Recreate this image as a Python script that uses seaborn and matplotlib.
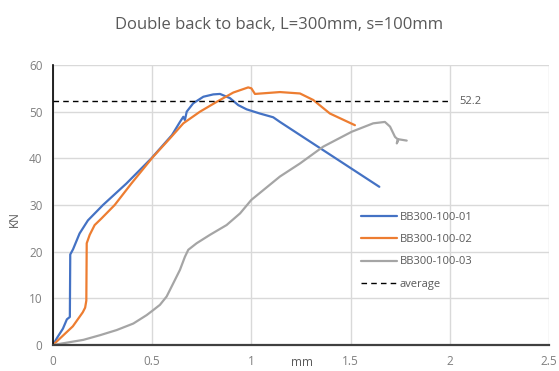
import matplotlib
matplotlib.use("Agg")
import matplotlib.pyplot as plt
import seaborn as sns
import pandas as pd

# Load-displacement readings (mm, KN)
bb01_mm = [0.0, 0.02, 0.05, 0.07, 0.085, 0.087, 0.101, 0.134, 0.176, 0.252, 0.37, 0.496, 0.6, 0.64,
           0.657, 0.665, 0.674, 0.707, 0.758, 0.808, 0.842, 0.892, 0.934, 0.976, 1.043, 1.11, 1.144, 1.645]
bb01_kn = [0.0, 1.5, 3.5, 5.5, 6.0, 19.4, 20.5, 23.9, 26.7, 30.0, 34.6, 40.0, 45.0, 47.8,
           48.9, 48.2, 50.0, 51.8, 53.2, 53.7, 53.8, 52.9, 51.4, 50.5, 49.6, 48.8, 47.8, 33.9]

bb02_mm = [0.0, 0.05, 0.1, 0.15, 0.162, 0.168, 0.17, 0.185, 0.21, 0.244, 0.311, 0.395, 0.504,
           0.59, 0.657, 0.741, 0.825, 0.909, 0.984, 1.0, 1.018, 1.144, 1.245, 1.312, 1.396, 1.522]
bb02_kn = [0.0, 2.0, 4.0, 7.0, 8.0, 9.5, 21.8, 23.6, 25.7, 27.1, 30.0, 34.6, 40.3,
           44.3, 47.5, 50.0, 52.1, 54.1, 55.2, 55.0, 53.8, 54.2, 53.9, 52.5, 49.6, 47.1]

bb03_mm = [0.0, 0.153, 0.237, 0.321, 0.405, 0.472, 0.506, 0.539, 0.573, 0.606, 0.64, 0.665, 0.682,
           0.724, 0.791, 0.875, 0.943, 1.0, 1.144, 1.245, 1.362, 1.506, 1.614, 1.673, 1.699,
           1.724, 1.74, 1.733, 1.74, 1.783]
bb03_kn = [0.0, 1.1, 2.1, 3.2, 4.6, 6.4, 7.5, 8.6, 10.4, 13.2, 16.1, 18.9, 20.4,
           21.8, 23.6, 25.7, 28.2, 31.1, 36.1, 38.9, 42.5, 45.7, 47.5, 47.8, 46.8,
           44.6, 44.0, 43.2, 44.1, 43.8]

avg_mm = [0.0, 2.0]
avg_kn = [52.2, 52.2]

series = {
    "BB300-100-01": (bb01_mm, bb01_kn, "#4472C4"),
    "BB300-100-02": (bb02_mm, bb02_kn, "#ED7D31"),
    "BB300-100-03": (bb03_mm, bb03_kn, "#A5A5A5"),
}

sns.set_style("whitegrid")
plt.rcParams['font.family'] = ['Open Sans', 'DejaVu Sans']

fig = plt.figure(figsize=(5.59, 3.71), dpi=100)
ax = fig.add_axes([0.0948, 0.0701, 0.8872, 0.7547])

for name, (xs, ys, col) in series.items():
    df = pd.DataFrame({"mm": xs, "KN": ys})
    sns.lineplot(data=df, x="mm", y="KN", sort=False, color=col, linewidth=1.6,
                 label=name, ax=ax, estimator=None)

df_avg = pd.DataFrame({"mm": avg_mm, "KN": avg_kn})
sns.lineplot(data=df_avg, x="mm", y="KN", sort=False, color="black", linewidth=1.0,
             linestyle=(0, (4, 3)), label="average", ax=ax, estimator=None)
ax.text(2.05, 52.2, "52.2", color="#595959", fontsize=8, va="center", ha="left")

ax.set_xlim(0, 2.5)
ax.set_ylim(0, 60)
ax.set_xticks([0, 0.5, 1, 1.5, 2, 2.5])
ax.set_xticklabels(["0", "0.5", "1", "1.5", "2", "2.5"])
ax.set_yticks(range(0, 61, 10))
ax.grid(True, color="#D9D9D9", linewidth=1.0)
ax.tick_params(axis="both", labelcolor="#7F7F7F", labelsize=8.5, length=4, width=1.2)
ax.tick_params(axis="x", direction="inout", color="#404040", length=7)
ax.tick_params(axis="y", direction="out", color="black", length=4)
for side in ["top", "right"]:
    ax.spines[side].set_visible(False)
ax.spines["left"].set_color("black")
ax.spines["left"].set_linewidth(1.2)
ax.spines["bottom"].set_color("#404040")
ax.spines["bottom"].set_linewidth(1.6)

ax.set_xlabel("")
ax.set_ylabel("")
fig.text(0.54, 0.022, "mm", color="#595959", fontsize=8.5, ha="center", va="center")
fig.text(0.025, 0.41, "KN", color="#595959", fontsize=8.5, rotation=90, ha="center", va="center")

fig.suptitle("Double back to back, L=300mm, s=100mm", x=0.5, y=0.955, color="#595959", fontsize=12)

leg = ax.legend(loc="upper left", bbox_to_anchor=(0.6, 0.51), frameon=False, fontsize=8,
                handlelength=3.3, handletextpad=0.2, labelspacing=1.0)
for t in leg.get_texts():
    t.set_color("#595959")

fig.savefig("out.png", dpi=100)
